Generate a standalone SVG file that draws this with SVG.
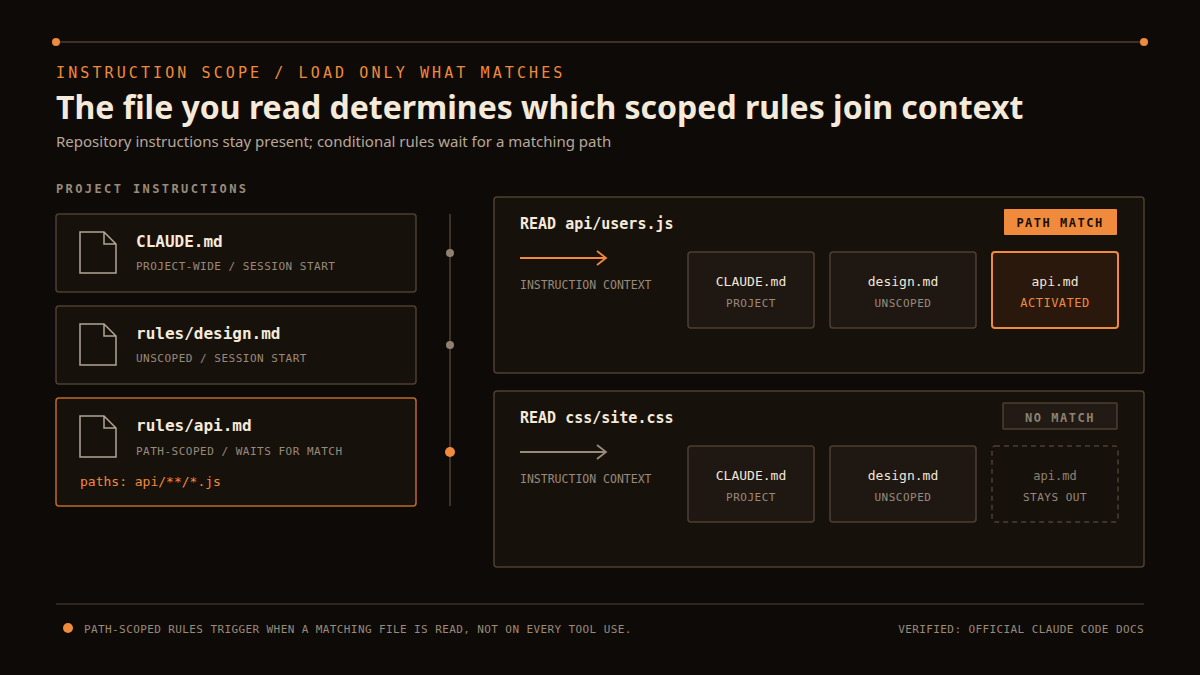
<svg xmlns="http://www.w3.org/2000/svg" width="1200" height="675" viewBox="0 0 1200 675">
<style>
.m{font-family:"DejaVu Sans Mono","Liberation Mono",monospace}
.s{font-family:"Noto Sans","Liberation Sans",sans-serif}
.card{fill:#17110c;stroke:#4e3f31;stroke-width:1.5}
.hot{stroke:#c0682a}
.box{fill:#1e1712;stroke:#4e3f31;stroke-width:1.5}
.lbl{fill:#f2e6d6;font-size:13px}
.sub{fill:#9a8a7a;font-size:11px;letter-spacing:0.5px}
.ttl{fill:#f5ead9;font-size:16px;font-weight:bold}
.icon{fill:none;stroke:#b0a494;stroke-width:1.5}
</style>
<defs>
<marker id="ao" markerWidth="12" markerHeight="20" refX="10" refY="8" orient="auto" markerUnits="userSpaceOnUse"><path d="M1,1 L10,8 L1,15" fill="none" stroke="#f08a3c" stroke-width="1.8"/></marker>
<marker id="ag" markerWidth="12" markerHeight="20" refX="10" refY="8" orient="auto" markerUnits="userSpaceOnUse"><path d="M1,1 L10,8 L1,15" fill="none" stroke="#9a8a7a" stroke-width="1.8"/></marker>
</defs>
<rect width="1200" height="675" fill="#0e0a07"/>
<line x1="56" y1="42" x2="1144" y2="42" stroke="#4e3f31" stroke-width="1.5"/>
<circle cx="56" cy="42" r="4" fill="#f08a3c"/><circle cx="1144" cy="42" r="4" fill="#f08a3c"/>
<text x="56" y="78" class="m" fill="#f08a3c" font-size="15" letter-spacing="3.1">INSTRUCTION SCOPE / LOAD ONLY WHAT MATCHES</text>
<text x="56" y="119" class="s" fill="#f5ead9" font-size="32" font-weight="bold">The file you read determines which scoped rules join context</text>
<text x="56" y="147" class="s" fill="#b8a898" font-size="15">Repository instructions stay present; conditional rules wait for a matching path</text>
<text x="56" y="193" class="m" fill="#9a8a7a" font-size="12" font-weight="bold" letter-spacing="2.4">PROJECT INSTRUCTIONS</text>

<g id="claude">
<rect x="56" y="214" width="360" height="78" rx="3" class="card"/>
<path d="M80,232 H104 L116,244 V273 H80 Z M104,232 V244 H116" class="icon"/>
<text x="136" y="247" class="m ttl">CLAUDE.md</text>
<text x="136" y="270" class="m sub">PROJECT-WIDE / SESSION START</text>
</g>
<g id="design">
<rect x="56" y="306" width="360" height="78" rx="3" class="card"/>
<path d="M80,324 H104 L116,336 V365 H80 Z M104,324 V336 H116" class="icon"/>
<text x="136" y="339" class="m ttl">rules/design.md</text>
<text x="136" y="362" class="m sub">UNSCOPED / SESSION START</text>
</g>
<g id="api">
<rect x="56" y="398" width="360" height="108" rx="3" class="card hot"/>
<path d="M80,416 H104 L116,428 V457 H80 Z M104,416 V428 H116" class="icon"/>
<text x="136" y="431" class="m ttl">rules/api.md</text>
<text x="136" y="455" class="m sub">PATH-SCOPED / WAITS FOR MATCH</text>
<text x="80" y="486" class="m" fill="#f08a3c" font-size="13">paths: api/**/*.js</text>
</g>
<g id="timeline">
<line x1="450" y1="214" x2="450" y2="506" stroke="#3e3127" stroke-width="2"/>
<circle cx="450" cy="253" r="4" fill="#8f8170"/>
<circle cx="450" cy="345" r="4" fill="#8f8170"/>
<circle cx="450" cy="452" r="5" fill="#f08a3c"/>
</g>

<g id="panel-match">
<rect x="494" y="197" width="650" height="176" rx="3" class="card"/>
<text x="520" y="229" class="m" fill="#f5ead9" font-size="15" font-weight="bold">READ api/users.js</text>
<rect x="1004" y="209" width="113" height="26" rx="1" fill="#f08a3c"/>
<text x="1060" y="227" class="m" fill="#1a0f06" font-size="12" font-weight="bold" letter-spacing="1.5" text-anchor="middle">PATH MATCH</text>
<text x="520" y="289" class="m" fill="#9a8a7a" font-size="11.5">INSTRUCTION CONTEXT</text>
<rect x="688" y="252" width="126" height="76" rx="3" class="box"/>
<text x="751" y="286" class="m lbl" text-anchor="middle">CLAUDE.md</text>
<text x="751" y="307" class="m sub" text-anchor="middle">PROJECT</text>
<rect x="830" y="252" width="146" height="76" rx="3" class="box"/>
<text x="903" y="286" class="m lbl" text-anchor="middle">design.md</text>
<text x="903" y="307" class="m sub" text-anchor="middle">UNSCOPED</text>
<rect x="992" y="252" width="126" height="76" rx="3" fill="#2a180c" stroke="#f08a3c" stroke-width="2"/>
<text x="1055" y="286" class="m lbl" text-anchor="middle">api.md</text>
<text x="1055" y="307" class="m" fill="#f08a3c" font-size="12" letter-spacing="0.5" text-anchor="middle">ACTIVATED</text>
</g>
<g id="panel-nomatch">
<rect x="494" y="391" width="650" height="176" rx="3" class="card"/>
<text x="520" y="423" class="m" fill="#f5ead9" font-size="15" font-weight="bold">READ css/site.css</text>
<rect x="1003" y="403" width="114" height="26" rx="1" fill="#221a14" stroke="#4e3f31" stroke-width="1.5"/>
<text x="1060" y="422" class="m" fill="#8f8170" font-size="12" font-weight="bold" letter-spacing="1.5" text-anchor="middle">NO MATCH</text>
<text x="520" y="483" class="m" fill="#9a8a7a" font-size="11.5">INSTRUCTION CONTEXT</text>
<rect x="688" y="446" width="126" height="76" rx="3" class="box"/>
<text x="751" y="480" class="m lbl" text-anchor="middle">CLAUDE.md</text>
<text x="751" y="501" class="m sub" text-anchor="middle">PROJECT</text>
<rect x="830" y="446" width="146" height="76" rx="3" class="box"/>
<text x="903" y="480" class="m lbl" text-anchor="middle">design.md</text>
<text x="903" y="501" class="m sub" text-anchor="middle">UNSCOPED</text>
<rect x="992" y="446" width="126" height="76" rx="3" fill="none" stroke="#4e3f31" stroke-width="1.5" stroke-dasharray="5 4"/>
<text x="1055" y="480" class="m" fill="#8f8170" font-size="12" text-anchor="middle">api.md</text>
<text x="1055" y="501" class="m sub" text-anchor="middle">STAYS OUT</text>
</g>
<g id="connectors">
<line x1="520" y1="258" x2="606" y2="258" stroke="#f08a3c" stroke-width="2" marker-end="url(#ao)"/>
<line x1="520" y1="452" x2="606" y2="452" stroke="#9a8a7a" stroke-width="2" marker-end="url(#ag)"/>
</g>
<line x1="56" y1="604" x2="1144" y2="604" stroke="#3e3127" stroke-width="1.5"/>
<circle cx="68" cy="628" r="5" fill="#f08a3c"/>
<text x="84" y="633" class="m" fill="#9a8a7a" font-size="11" letter-spacing="0.4">PATH-SCOPED RULES TRIGGER WHEN A MATCHING FILE IS READ, NOT ON EVERY TOOL USE.</text>
<text x="1144" y="633" class="m" fill="#9a8a7a" font-size="11" letter-spacing="0.4" text-anchor="end">VERIFIED: OFFICIAL CLAUDE CODE DOCS</text>
</svg>
